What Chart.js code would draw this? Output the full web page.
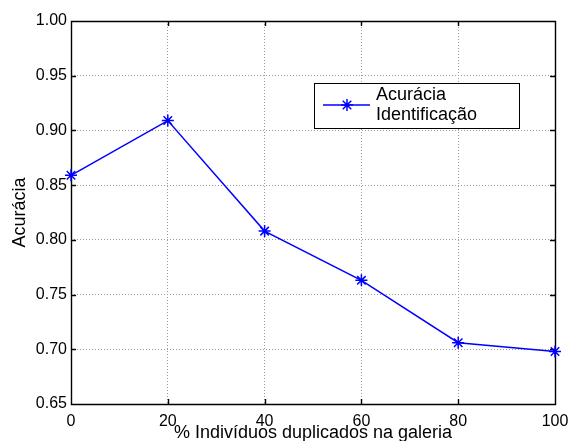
<!DOCTYPE html>
<html>
<head>
<meta charset="utf-8">
<script src="https://cdn.jsdelivr.net/npm/chart.js@4.4.0/dist/chart.umd.min.js"></script>
<style>
html, body { margin: 0; padding: 0; background: #fff; }
canvas { display: block; }
</style>
</head>
<body>
<canvas id="accChart" width="569" height="441"></canvas>
<script>
Chart.defaults.font.family = "'Liberation Sans', Arial, Helvetica, sans-serif";
Chart.defaults.font.size = 16;
Chart.defaults.color = "#000000";

const duplicated = [0, 20, 40, 60, 80, 100];
const accuracy = [0.859, 0.909, 0.808, 0.763, 0.706, 0.698];
const xTicks = [0, 20, 40, 60, 80, 100];
const yTicks = [0.65, 0.70, 0.75, 0.80, 0.85, 0.90, 0.95, 1.00];
const seriesLabel = ["Acurácia", "Identificação"];

const BLUE = "#0000ff";

function drawStar(ctx, x, y, r) {
    const d = r * Math.SQRT1_2;
    ctx.beginPath();
    ctx.moveTo(x - r, y); ctx.lineTo(x + r, y);
    ctx.moveTo(x, y - r); ctx.lineTo(x, y + r);
    ctx.moveTo(x - d, y - d); ctx.lineTo(x + d, y + d);
    ctx.moveTo(x - d, y + d); ctx.lineTo(x + d, y - d);
    ctx.stroke();
}

/* ------------------------------
   BOX + INWARD TICKS
------------------------------- */
const frame = {
    id: "frame",
    beforeDatasetsDraw(chart) {
        const { ctx, chartArea: a, scales: { x, y } } = chart;
        const t = 5;
        ctx.save();
        ctx.strokeStyle = "#000";
        ctx.lineWidth = 1.4;
        ctx.beginPath();
        ctx.rect(Math.round(a.left) + 0.5, Math.round(a.top) + 0.5,
                 Math.round(a.right - a.left), Math.round(a.bottom - a.top));
        xTicks.forEach(v => {
            const px = Math.round(x.getPixelForValue(v)) + 0.5;
            ctx.moveTo(px, a.bottom); ctx.lineTo(px, a.bottom - t);
            ctx.moveTo(px, a.top); ctx.lineTo(px, a.top + t);
        });
        yTicks.forEach(v => {
            const py = Math.round(y.getPixelForValue(v)) + 0.5;
            ctx.moveTo(a.left, py); ctx.lineTo(a.left + t, py);
            ctx.moveTo(a.right, py); ctx.lineTo(a.right - t, py);
        });
        ctx.stroke();
        ctx.restore();
    }
};

/* ------------------------------
   LEGEND (two line label)
------------------------------- */
const boxLegend = {
    id: "boxLegend",
    afterDraw(chart) {
        const { ctx, chartArea: a } = chart;
        const bx = a.left + 243, by = a.top + 62, bw = 205, bh = 45;
        ctx.save();
        ctx.fillStyle = "#fff";
        ctx.fillRect(bx, by, bw, bh);
        ctx.strokeStyle = "#000";
        ctx.lineWidth = 1;
        ctx.strokeRect(Math.round(bx) + 0.5, Math.round(by) + 0.5, bw, bh);

        const ly = by + 22;
        ctx.strokeStyle = BLUE;
        ctx.lineWidth = 1.5;
        ctx.beginPath();
        ctx.moveTo(bx + 9, ly); ctx.lineTo(bx + 56, ly);
        ctx.stroke();
        drawStar(ctx, bx + 33, ly, 6);

        ctx.fillStyle = "#000";
        ctx.font = "18px 'Liberation Sans', Arial, sans-serif";
        ctx.textBaseline = "middle";
        ctx.fillText(seriesLabel[0], bx + 62, by + 12.5);
        ctx.fillText(seriesLabel[1], bx + 62, by + 32.5);
        ctx.restore();
    }
};

new Chart(document.getElementById("accChart"), {
    type: "line",
    data: {
        datasets: [{
            label: seriesLabel.join(" "),
            data: duplicated.map((d, i) => ({ x: d, y: accuracy[i] })),
            borderColor: BLUE,
            borderWidth: 1.5,
            pointStyle: "star",
            pointRadius: 6,
            pointBorderColor: BLUE,
            pointBorderWidth: 1.5,
            tension: 0,
            fill: false,
            clip: false
        }]
    },
    options: {
        responsive: false,
        animation: false,
        layout: { padding: { top: 21, right: 14, left: 0, bottom: 0 } },
        plugins: {
            legend: { display: false },
            tooltip: { enabled: false }
        },
        scales: {
            x: {
                type: "linear",
                min: 0,
                max: 100,
                afterBuildTicks: s => { s.ticks = xTicks.map(v => ({ value: v })); },
                afterFit: s => { s.height = 37; s.paddingLeft = 0; s.paddingRight = 0; },
                grid: { color: "#9a9a9a", lineWidth: 1, drawTicks: false },
                border: { display: false, dash: [1, 2] },
                ticks: { padding: 8, maxRotation: 0, font: { size: 16 } },
                title: {
                    display: true,
                    text: "% Indivíduos duplicados na galeria",
                    font: { size: 18, lineHeight: 1 },
                    padding: { top: 0, bottom: -1 }
                }
            },
            y: {
                min: 0.65,
                max: 1.00,
                afterBuildTicks: s => { s.ticks = yTicks.map(v => ({ value: v })); },
                afterFit: s => { s.width = 71; s.paddingTop = 0; s.paddingBottom = 0; },
                grid: { color: "#9a9a9a", lineWidth: 1, drawTicks: false },
                border: { display: false, dash: [1, 2] },
                ticks: { padding: 4, callback: v => v.toFixed(2), font: { size: 16 } },
                title: {
                    display: true,
                    text: "Acurácia",
                    font: { size: 18, lineHeight: 1 },
                    padding: { top: 11, bottom: 0 }
                }
            }
        }
    },
    plugins: [frame, boxLegend]
});
</script>
</body>
</html>
